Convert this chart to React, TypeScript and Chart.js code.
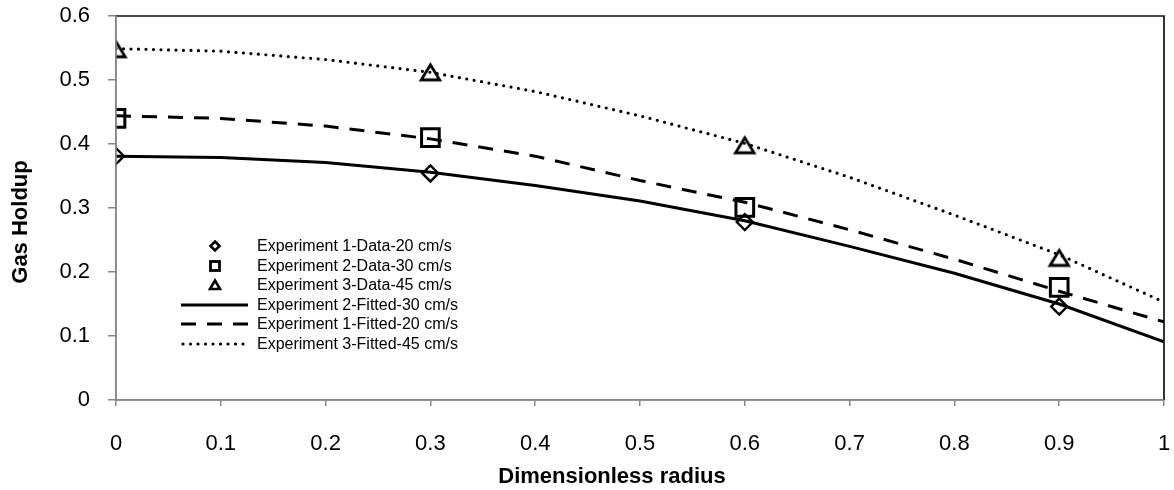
import React, { useEffect, useRef } from "react";
import { Chart, registerables } from "chart.js";

Chart.register(...registerables);

const radius = [0, 0.1, 0.2, 0.3, 0.4, 0.5, 0.6, 0.7, 0.8, 0.9, 1.0];
const dataRadius = [0, 0.3, 0.6, 0.9];

const exp1Data = [0.381, 0.354, 0.278, 0.146];
const exp2Data = [0.440, 0.410, 0.301, 0.176];
const exp3Data = [0.548, 0.512, 0.398, 0.222];

const exp2Fitted = [0.381, 0.379, 0.371, 0.356, 0.335, 0.311, 0.280, 0.240, 0.198, 0.150, 0.091];
const exp1Fitted = [0.444, 0.440, 0.428, 0.408, 0.381, 0.343, 0.309, 0.266, 0.220, 0.170, 0.122];
const exp3Fitted = [0.549, 0.545, 0.532, 0.512, 0.482, 0.444, 0.401, 0.348, 0.289, 0.227, 0.153];

const seriesLabels = [
  "Experiment 1-Data-20 cm/s",
  "Experiment 2-Data-30 cm/s",
  "Experiment 3-Data-45 cm/s",
  "Experiment 2-Fitted-30 cm/s",
  "Experiment 1-Fitted-20 cm/s",
  "Experiment 3-Fitted-45 cm/s",
];

const xTitle = "Dimensionless radius";
const yTitle = "Gas Holdup";

const FONT = "'Liberation Sans', Arial, sans-serif";
const AXIS_GRAY = "#868686";

function pts(xs: number[], ys: number[]) {
  return xs.map((x, i) => ({ x, y: ys[i] }));
}

function makeTriangle(w: number, h: number, lw: number) {
  const c = document.createElement("canvas");
  const cw = Math.ceil(w + lw * 2 + 4);
  const ch = Math.ceil(h + lw * 2 + 4);
  c.width = cw;
  c.height = ch;
  const ctx = c.getContext("2d")!;
  ctx.strokeStyle = "#000";
  ctx.lineWidth = lw;
  ctx.lineJoin = "miter";
  ctx.beginPath();
  ctx.moveTo(cw / 2, ch / 2 - h / 2);
  ctx.lineTo(cw / 2 + w / 2, ch / 2 + h / 2);
  ctx.lineTo(cw / 2 - w / 2, ch / 2 + h / 2);
  ctx.closePath();
  ctx.stroke();
  return c;
}

const zeroPad = (s: any) => {
  s.paddingTop = 0;
  s.paddingBottom = 0;
  s.paddingLeft = 0;
  s.paddingRight = 0;
};

export default function App() {
  const ref = useRef<HTMLCanvasElement | null>(null);

  useEffect(() => {
    document.body.style.margin = "0";
    const canvas = ref.current!;
    const tri = makeTriangle(18.5, 15, 2.8);

    const framePlugin = {
      id: "frameAndLegend",
      afterDatasetsDraw(chart: any) {
        const { ctx, chartArea } = chart;
        const { left, right, top, bottom } = chartArea;
        ctx.save();
        ctx.strokeStyle = "#111";
        ctx.lineWidth = 1.7;
        ctx.beginPath();
        ctx.moveTo(left, top);
        ctx.lineTo(right, top);
        ctx.lineTo(right, bottom);
        ctx.stroke();
        ctx.strokeStyle = AXIS_GRAY;
        ctx.lineWidth = 1.5;
        ctx.beginPath();
        ctx.moveTo(left, top);
        ctx.lineTo(left, bottom);
        ctx.lineTo(right, bottom);
        ctx.stroke();

        // legend
        const lx0 = 181;
        const lx1 = 248;
        const mx = 215;
        const tx = 257;
        const rows = [246, 266, 285, 305, 324, 344];
        ctx.font = `16px ${FONT}`;
        ctx.fillStyle = "#000";
        ctx.textBaseline = "middle";
        ctx.textAlign = "left";
        rows.forEach((y, i) => {
          ctx.fillText(seriesLabels[i], tx, y + 1);
        });
        ctx.strokeStyle = "#000";
        ctx.lineWidth = 2.6;
        ctx.beginPath();
        const dy = rows[0];
        ctx.moveTo(mx, dy - 4.5);
        ctx.lineTo(mx + 4.5, dy);
        ctx.lineTo(mx, dy + 4.5);
        ctx.lineTo(mx - 4.5, dy);
        ctx.closePath();
        ctx.stroke();
        ctx.lineWidth = 2.8;
        ctx.strokeRect(mx - 4.5, rows[1] - 4.5, 9, 9);
        ctx.lineWidth = 2.6;
        ctx.beginPath();
        ctx.moveTo(mx, rows[2] - 4.5);
        ctx.lineTo(mx + 5, rows[2] + 4);
        ctx.lineTo(mx - 5, rows[2] + 4);
        ctx.closePath();
        ctx.stroke();
        ctx.lineWidth = 3;
        ctx.beginPath();
        ctx.moveTo(lx0, rows[3]);
        ctx.lineTo(lx1, rows[3]);
        ctx.stroke();
        ctx.setLineDash([15, 11]);
        ctx.beginPath();
        ctx.moveTo(lx0, rows[4]);
        ctx.lineTo(lx1 + 2, rows[4]);
        ctx.stroke();
        ctx.setLineDash([0, 7.5]);
        ctx.lineCap = "round";
        ctx.lineWidth = 3.2;
        ctx.beginPath();
        ctx.moveTo(lx0 + 2, rows[5]);
        ctx.lineTo(lx1, rows[5]);
        ctx.stroke();
        ctx.setLineDash([]);
        ctx.lineCap = "butt";

        // axis titles
        ctx.font = `bold 22px ${FONT}`;
        ctx.textAlign = "center";
        ctx.textBaseline = "middle";
        ctx.fillText(xTitle, 612, 477);
        ctx.translate(21, 222);
        ctx.rotate(-Math.PI / 2);
        ctx.fillText(yTitle, 0, 0);
        ctx.restore();
      },
    };

    const chart = new Chart(canvas, {
      type: "scatter",
      data: {
        datasets: [
          {
            label: seriesLabels[0],
            data: pts(dataRadius, exp1Data),
            showLine: false,
            pointStyle: "rectRot",
            pointRadius: 8,
            pointBorderWidth: 2.4,
            pointBorderColor: "#000",
            pointBackgroundColor: "rgba(0,0,0,0)",
            order: 1,
          },
          {
            label: seriesLabels[1],
            data: pts(dataRadius, exp2Data),
            showLine: false,
            pointStyle: "rect",
            pointRadius: 12.5,
            pointBorderWidth: 3,
            pointBorderColor: "#000",
            pointBackgroundColor: "rgba(0,0,0,0)",
            order: 1,
          },
          {
            label: seriesLabels[2],
            data: pts(dataRadius, exp3Data),
            showLine: false,
            pointStyle: tri as any,
            pointRadius: 10,
            order: 1,
          },
          {
            label: seriesLabels[3],
            data: pts(radius, exp2Fitted),
            showLine: true,
            borderColor: "#000",
            borderWidth: 3,
            pointRadius: 0,
            tension: 0,
            order: 2,
          },
          {
            label: seriesLabels[4],
            data: pts(radius, exp1Fitted),
            showLine: true,
            borderColor: "#000",
            borderWidth: 3,
            borderDash: [15, 11],
            pointRadius: 0,
            tension: 0,
            order: 2,
          },
          {
            label: seriesLabels[5],
            data: pts(radius, exp3Fitted),
            showLine: true,
            borderColor: "#000",
            borderWidth: 3.2,
            borderDash: [0, 7.5],
            borderCapStyle: "round",
            pointRadius: 0,
            tension: 0,
            order: 2,
          },
        ],
      },
      options: {
        animation: false,
        responsive: false,
        maintainAspectRatio: false,
        layout: { autoPadding: false, padding: { left: 0, right: 10, top: 16, bottom: 0 } },
        plugins: {
          legend: { display: false },
          tooltip: { enabled: false },
        },
        scales: {
          x: {
            type: "linear",
            min: 0,
            max: 1,
            afterFit: (s: any) => {
              s.height = 90;
              zeroPad(s);
            },
            ticks: {
              stepSize: 0.1,
              color: "#000",
              font: { family: FONT, size: 22 },
              padding: 25,
              maxRotation: 0,
              callback: (v: any) => String(Number(Number(v).toFixed(1))),
            },
            grid: {
              display: true,
              drawOnChartArea: false,
              drawTicks: true,
              tickLength: 6,
              color: AXIS_GRAY,
              lineWidth: 1.5,
            },
            border: { display: true, color: AXIS_GRAY, width: 1.5 },
          },
          y: {
            type: "linear",
            min: 0,
            max: 0.6,
            afterFit: (s: any) => {
              s.width = 116;
              zeroPad(s);
            },
            ticks: {
              stepSize: 0.1,
              color: "#000",
              font: { family: FONT, size: 22 },
              padding: 18,
              callback: (v: any) => String(Number(Number(v).toFixed(1))),
            },
            grid: {
              display: true,
              drawOnChartArea: false,
              drawTicks: true,
              tickLength: 8,
              color: AXIS_GRAY,
              lineWidth: 1.5,
            },
            border: { display: true, color: AXIS_GRAY, width: 1.5 },
          },
        },
      },
      plugins: [framePlugin],
    } as any);

    return () => chart.destroy();
  }, []);

  return (
    <div style={{ width: 1174, height: 490 }}>
      <canvas ref={ref} width={1174} height={490} style={{ display: "block" }} />
    </div>
  );
}
